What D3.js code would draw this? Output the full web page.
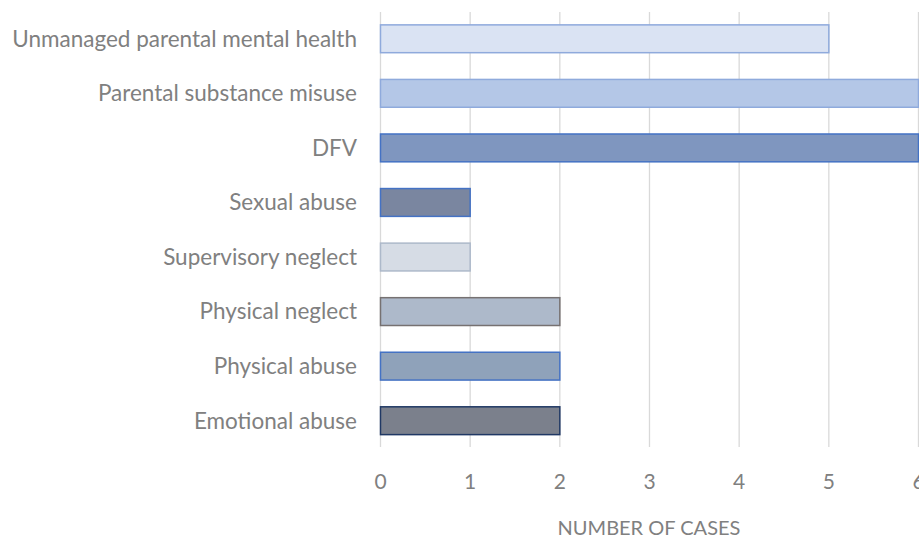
<!DOCTYPE html>
<html>
<head>
<meta charset="utf-8">
<script src="https://cdn.jsdelivr.net/npm/d3@7/dist/d3.min.js"></script>
<style>
  html, body { margin: 0; padding: 0; background: #fff; }
  svg { display: block; }
  text { font-family: Lato, "Open Sans", sans-serif; fill: #808080; }
</style>
</head>
<body>
<svg id="chart" width="919" height="542"></svg>
<script>
const categories = [
  "Unmanaged parental mental health",
  "Parental substance misuse",
  "DFV",
  "Sexual abuse",
  "Supervisory neglect",
  "Physical neglect",
  "Physical abuse",
  "Emotional abuse"
];
const values = [5, 6, 6, 1, 1, 2, 2, 2];
const xTicks = [0, 1, 2, 3, 4, 5, 6];
const fills = ["#dae3f3", "#b4c7e7", "#7f96bf", "#7a86a0", "#d6dce5", "#adb9ca", "#8fa2ba", "#7b808c"];
const strokes = ["#8faadc", "#8faadc", "#4472c4", "#4472c4", "#adb9ca", "#767171", "#4472c4", "#203864"];
const axisTitle = "NUMBER OF CASES";

const svg = d3.select("#chart");
const x = d3.scaleLinear().domain([0, 6]).range([380.5, 918.5]);
const y = d3.scaleBand().domain(categories).range([11.5, 448]).paddingInner(0.49).paddingOuter(0.245);

// gridlines
svg.append("g").selectAll("line").data(xTicks).join("line")
  .attr("x1", d => x(d)).attr("x2", d => x(d))
  .attr("y1", 12).attr("y2", 447)
  .attr("stroke", "#d9d9d9").attr("stroke-width", 1.3);

// bars
svg.append("g").selectAll("rect").data(categories).join("rect")
  .attr("x", x(0))
  .attr("y", d => y(d))
  .attr("width", (d, i) => x(values[i]) - x(0))
  .attr("height", y.bandwidth())
  .attr("fill", (d, i) => fills[i])
  .attr("stroke", (d, i) => strokes[i])
  .attr("stroke-width", 1.5);

// category labels
svg.append("g").selectAll("text").data(categories).join("text")
  .attr("x", 357)
  .attr("y", d => y(d) + y.bandwidth() / 2)
  .attr("dy", "0.35em")
  .attr("text-anchor", "end")
  .attr("font-size", 22.5)
  .text(d => d);

// tick labels
svg.append("g").selectAll("text").data(xTicks).join("text")
  .attr("x", d => x(d))
  .attr("y", 489)
  .attr("text-anchor", "middle")
  .attr("font-size", 21)
  .text(d => d);

svg.append("text")
  .attr("x", 649).attr("y", 535)
  .attr("text-anchor", "middle")
  .attr("font-size", 20)
  .text(axisTitle);
</script>
</body>
</html>
